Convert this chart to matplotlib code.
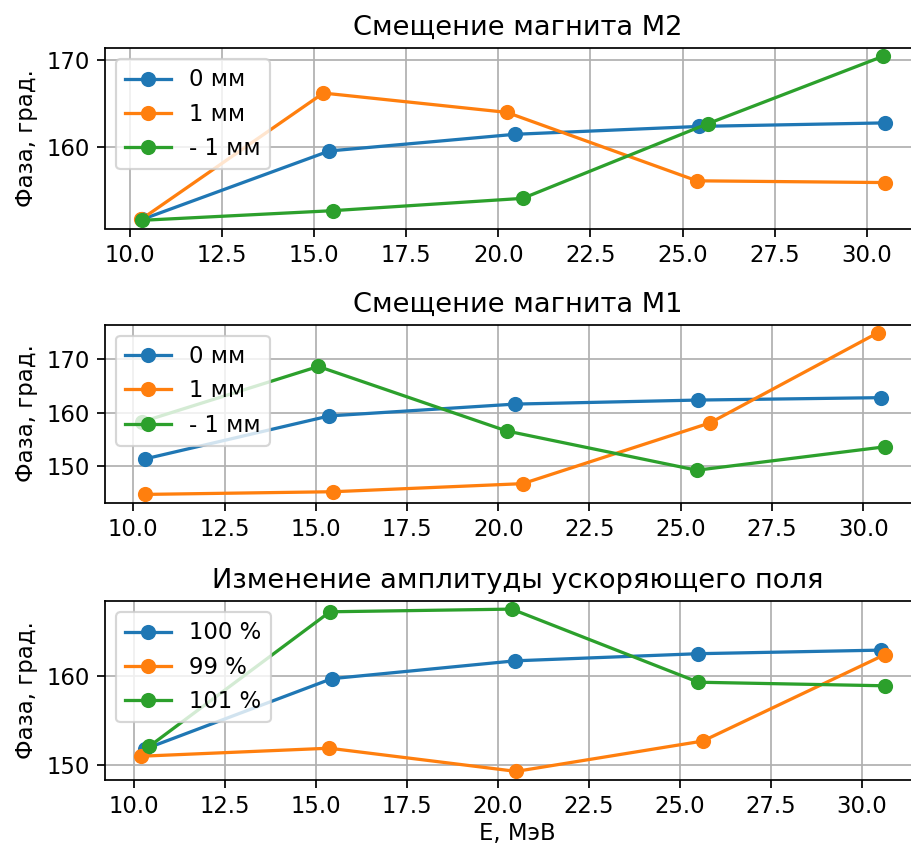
import matplotlib
matplotlib.use('Agg')
import matplotlib.pyplot as plt
from matplotlib.ticker import MultipleLocator

plt.rcParams['font.family'] = ['DejaVu Sans']
plt.rcParams['font.size'] = 10.5

# ---- Panel 1: Смещение магнита М2 ----
m2_labels = ['0 мм', '1 мм', '- 1 мм']
m2_x = [
    [10.33, 15.41, 20.45, 25.46, 30.49],
    [10.30, 15.25, 20.23, 25.39, 30.49],
    [10.33, 15.52, 20.66, 25.68, 30.45],
]
m2_y = [
    [151.8, 159.6, 161.5, 162.4, 162.8],
    [151.8, 166.2, 164.0, 156.2, 156.0],
    [151.7, 152.8, 154.2, 162.7, 170.4],
]

# ---- Panel 2: Смещение магнита М1 ----
m1_labels = ['0 мм', '1 мм', '- 1 мм']
m1_x = [
    [10.32, 15.37, 20.46, 25.48, 30.50],
    [10.32, 15.48, 20.67, 25.80, 30.41],
    [10.24, 15.07, 20.23, 25.44, 30.59],
]
m1_y = [
    [151.4, 159.4, 161.6, 162.35, 162.8],
    [144.8, 145.3, 146.8, 158.1, 174.9],
    [158.3, 168.6, 156.6, 149.3, 153.65],
]

# ---- Panel 3: Изменение амплитуды ускоряющего поля ----
amp_labels = ['100 %', '99 %', '101 %']
amp_x = [
    [10.29, 15.43, 20.47, 25.51, 30.52],
    [10.18, 15.36, 20.50, 25.63, 30.64],
    [10.41, 15.38, 20.38, 25.51, 30.64],
]
amp_y = [
    [151.8, 159.7, 161.7, 162.5, 162.9],
    [151.0, 151.9, 149.3, 152.7, 162.4],
    [152.1, 167.2, 167.5, 159.3, 158.9],
]

titles = ['Смещение магнита М2', 'Смещение магнита М1',
          'Изменение амплитуды ускоряющего поля']
ylabel = 'Фаза, град.'
xlabel = 'E, МэВ'

# x ranges of the axes (the right side of the original chart is cut off)
x_limits = [(9.32, 31.72), (9.225, 31.83), (9.194, 31.88)]

W, H, DPI = 911, 847, 156
fig = plt.figure(figsize=(W / DPI, H / DPI), dpi=DPI)

# axes boxes in pixels (left, top, right, bottom)
boxes = [(105, 48, 930, 228.5), (105, 324.5, 930, 502.5), (105, 601, 930, 779.5)]
panels = [(m2_x, m2_y, m2_labels), (m1_x, m1_y, m1_labels), (amp_x, amp_y, amp_labels)]

for i, ((l, t, r, b), (xs, ys, labs)) in enumerate(zip(boxes, panels)):
    ax = fig.add_axes([l / W, 1 - b / H, (r - l) / W, (b - t) / H])
    for x, y, lab in zip(xs, ys, labs):
        ax.plot(x, y, marker='o', label=lab)
    ax.set_xlim(*x_limits[i])
    ax.xaxis.set_major_locator(MultipleLocator(2.5))
    ax.yaxis.set_major_locator(MultipleLocator(10))
    ax.spines['right'].set_visible(False)
    ax.set_title(titles[i])
    ax.set_ylabel(ylabel)
    ax.grid(True)
    ax.legend(loc='upper left')
    if i == 2:
        ax.set_xlabel(xlabel, labelpad=2)

fig.savefig('out.png', dpi=DPI)
